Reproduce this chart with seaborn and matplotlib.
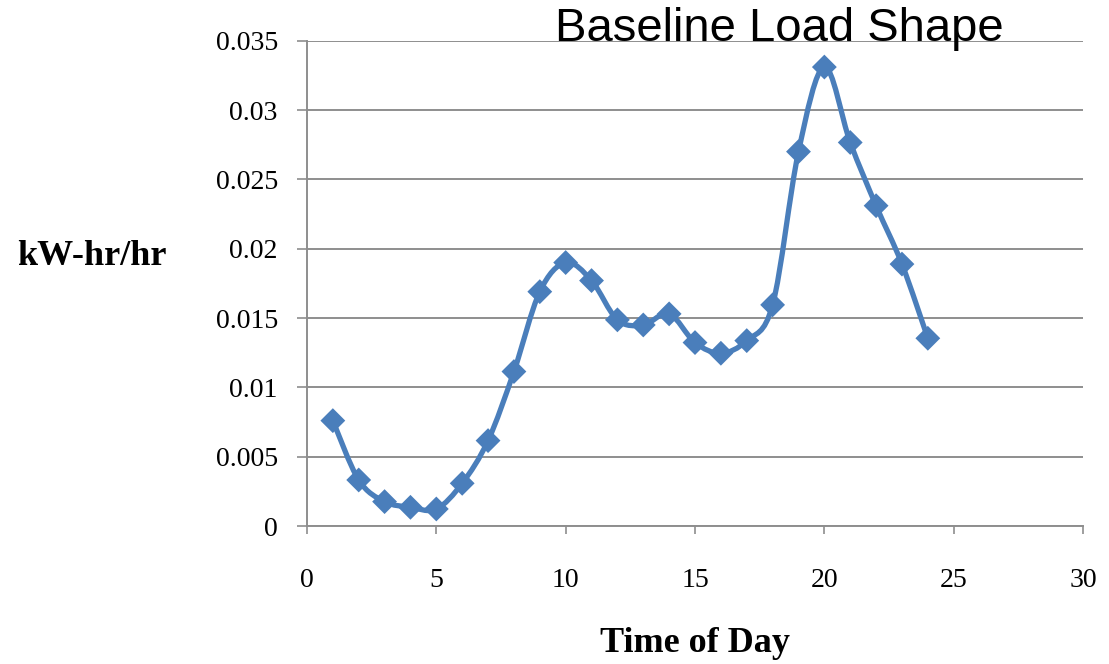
import matplotlib
matplotlib.use('Agg')
import matplotlib.pyplot as plt
from matplotlib.path import Path
from matplotlib.patches import PathPatch
import numpy as np
import seaborn as sns

# hourly load values
hours = list(range(1, 25))
load = [0.0076, 0.00332, 0.00176, 0.00135, 0.00123, 0.00308, 0.00616, 0.01114,
        0.0169, 0.0190, 0.0177, 0.01487, 0.0145, 0.0153, 0.01323, 0.01246,
        0.01337, 0.01595, 0.0270, 0.0331, 0.02766, 0.0231, 0.01889, 0.01354]
x_ticks = [0, 5, 10, 15, 20, 25, 30]
y_ticks = [0, 0.005, 0.01, 0.015, 0.02, 0.025, 0.03, 0.035]
y_tick_labels = ["0", "0.005", "0.01", "0.015", "0.02", "0.025", "0.03", "0.035"]

LINE_BLUE = "#4a7ebb"
GRID_GREY = "#8e8e8e"

sns.set_style("white")

fig = plt.figure(figsize=(11.09, 6.64), dpi=100)
ax = fig.add_axes([0.2768, 0.2078, 0.6998, 0.7309])

# smoothed line (Excel-style): Catmull-Rom segments turned into cubic Beziers
pts = np.column_stack([hours, load])
verts = [tuple(pts[0])]
codes = [Path.MOVETO]
for i in range(len(pts) - 1):
    p0 = pts[max(i - 1, 0)]
    p1 = pts[i]
    p2 = pts[i + 1]
    p3 = pts[min(i + 2, len(pts) - 1)]
    c1 = p1 + (p2 - p0) / 6.0
    c2 = p2 - (p3 - p1) / 6.0
    verts += [tuple(c1), tuple(c2), tuple(p2)]
    codes += [Path.CURVE4, Path.CURVE4, Path.CURVE4]
ax.add_patch(PathPatch(Path(verts, codes), fill=False, edgecolor=LINE_BLUE,
                       linewidth=3.8, capstyle='round', joinstyle='round', zorder=3))

sns.scatterplot(x=hours, y=load, marker='D', s=160, color=LINE_BLUE,
                edgecolor='none', ax=ax, zorder=4, legend=False)

ax.set_xlim(0, 30)
ax.set_ylim(0, 0.035)
ax.set_xticks(x_ticks)
ax.set_yticks(y_ticks)
ax.set_yticklabels(y_tick_labels)

ax.grid(axis='y', color=GRID_GREY, linewidth=1.4)
ax.grid(axis='x', visible=False)
ax.set_axisbelow(True)
for side in ['top', 'right']:
    ax.spines[side].set_visible(False)
for side in ['left', 'bottom']:
    ax.spines[side].set_color(GRID_GREY)
    ax.spines[side].set_linewidth(1.4)

ax.tick_params(axis='y', direction='out', length=7, width=1.2, color=GRID_GREY,
               pad=14, labelsize=20, left=True)
ax.tick_params(axis='x', direction='out', length=6, width=1.2, color=GRID_GREY,
               pad=24, labelsize=20, bottom=True)
for lab in ax.get_xticklabels() + ax.get_yticklabels():
    lab.set_fontfamily('Liberation Serif')
    lab.set_color('black')

ax.set_xlabel("Time of Day", fontfamily='Liberation Serif', fontweight='bold',
              fontsize=26, labelpad=25, color='black')
ax.set_ylabel("kW-hr/hr", fontfamily='Liberation Serif', fontweight='bold',
              fontsize=26, rotation=0, ha='left', va='baseline', color='black')
ax.yaxis.set_label_coords(-0.374, 0.538)

fig.text(0.703, 0.938, "Baseline Load Shape", fontfamily='Liberation Sans',
         fontsize=34, ha='center', va='baseline', color='black')

fig.savefig("out.png", dpi=100)
